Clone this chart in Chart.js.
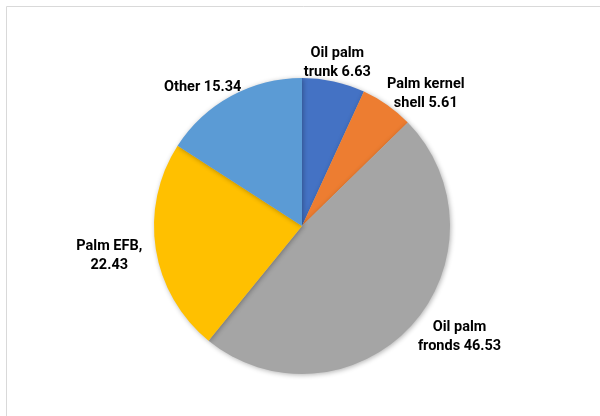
<!DOCTYPE html>
<html>
<head>
<meta charset="utf-8">
<script src="https://cdn.jsdelivr.net/npm/chart.js@4/dist/chart.umd.min.js"></script>
<style>
	body { margin: 0; background: #fff; }
	#wrap { width: 600px; height: 416px; }
</style>
</head>
<body>
<div id="wrap"><canvas id="graphic" width="600" height="416"></canvas></div>
<script>
const categories = ['Oil palm trunk', 'Palm kernel shell', 'Oil palm fronds', 'Palm EFB', 'Other'];
const values = [6.63, 5.61, 46.53, 22.43, 15.34];
const labelLines = [
	['Oil palm', 'trunk 6.63'],
	['Palm kernel', 'shell 5.61'],
	['Oil palm', 'fronds 46.53'],
	['Palm EFB,', '22.43'],
	['Other 15.34']
];
const colors = ['#4472C4', '#ED7D31', '#A5A5A5', '#FFC000', '#5B9BD5'];

// small nudges so labels land where Excel put them
const labelNudge = [[-4, 2], [15, 6], [16, -3], [-12, 3], [-9, 1]];

const frame = {
	id: 'frame',
	beforeDraw(chart) {
		const ctx = chart.ctx;
		ctx.save();
		ctx.strokeStyle = '#d9d9d9';
		ctx.lineWidth = 1;
		ctx.beginPath();
		ctx.moveTo(6.5, 416);
		ctx.lineTo(6.5, 6.5);
		ctx.lineTo(600, 6.5);
		ctx.stroke();
		ctx.restore();
	}
};

const shadow = {
	id: 'shadow',
	beforeDatasetsDraw(chart) {
		const ctx = chart.ctx;
		ctx.save();
		ctx.shadowColor = 'rgba(0,0,0,0.3)';
		ctx.shadowBlur = 5;
		ctx.shadowOffsetX = 1;
		ctx.shadowOffsetY = 1;
	},
	afterDatasetsDraw(chart) {
		chart.ctx.restore();
	}
};

const outsideLabels = {
	id: 'outsideLabels',
	afterDatasetsDraw(chart) {
		const ctx = chart.ctx;
		const meta = chart.getDatasetMeta(0);
		ctx.save();
		ctx.font = 'bold 14.5px Roboto, "Liberation Sans", sans-serif';
		ctx.fillStyle = '#000';
		ctx.textAlign = 'center';
		ctx.textBaseline = 'middle';
		const lineH = 19;
		meta.data.forEach((arc, i) => {
			const p = arc.getProps(['x', 'y', 'startAngle', 'endAngle', 'outerRadius'], true);
			const mid = (p.startAngle + p.endAngle) / 2;
			const d = p.outerRadius + 2;
			const ax = p.x + Math.cos(mid) * d;
			const ay = p.y + Math.sin(mid) * d;
			const lines = labelLines[i];
			const w = Math.max(...lines.map(t => ctx.measureText(t).width));
			const h = lines.length * lineH;
			const cx = ax + Math.cos(mid) * w / 2 + labelNudge[i][0];
			const cy = ay + Math.sin(mid) * h / 2 + labelNudge[i][1];
			lines.forEach((t, j) => {
				ctx.fillText(t, cx, cy - h / 2 + lineH / 2 + j * lineH);
			});
		});
		ctx.restore();
	}
};

new Chart(graphic, {
	type: 'pie',
	data: {
		labels: categories,
		datasets: [{
			data: values,
			backgroundColor: colors,
			borderWidth: 0
		}]
	},
	options: {
		responsive: false,
		animation: false,
		layout: { padding: { left: 154, right: 150, top: 78, bottom: 42 } },
		plugins: {
			legend: { display: false },
			tooltip: { enabled: false }
		}
	},
	plugins: [frame, shadow, outsideLabels]
});
</script>
</body>
</html>
